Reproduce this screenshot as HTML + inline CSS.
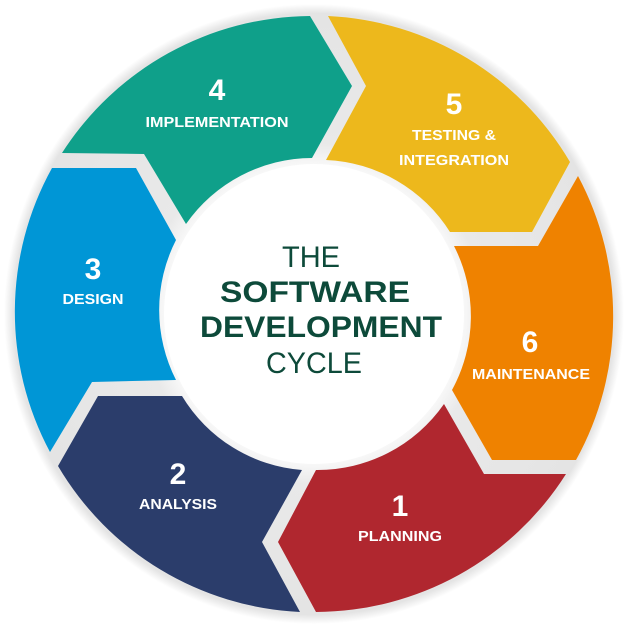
<!DOCTYPE html>
<html><head><meta charset="utf-8"><style>html,body{margin:0;padding:0;background:#fff}svg{display:block}</style></head>
<body>
<svg width="627" height="627" viewBox="0 0 627 627" xmlns="http://www.w3.org/2000/svg" font-family="Liberation Sans, Arial, sans-serif">
<defs>
<radialGradient id="rg" cx="50%" cy="50%" r="50%">
<stop offset="0.45" stop-color="#ffffff"/><stop offset="0.55" stop-color="#e9e9e9"/><stop offset="0.97" stop-color="#e4e4e4"/><stop offset="1" stop-color="#ffffff"/>
</radialGradient>
</defs>
<circle cx="314" cy="314" r="310" fill="url(#rg)"/>
<path d="M62,153 A297,297 0 0 1 310,16 L352,86 L312,158 A154,154 0 0 0 186,224 L144,154 Z" fill="#0fa08a"/>
<path d="M328,16 A297,297 0 0 1 570,162 L532,232 L450,232 A154,154 0 0 0 326,160 L366,86 Z" fill="#edb81c"/>
<path d="M578,176 A297,297 0 0 1 576,460 L492,460 L452,390 A154,154 0 0 0 454,246 L538,246 Z" fill="#ef8200"/>
<path d="M566,474 A297,297 0 0 1 316,612 L278,542 L316,470 A154,154 0 0 0 444,404 L484,474 Z" fill="#b0272f"/>
<path d="M300,612 A297,297 0 0 1 58,466 L98,396 L182,396 A154,154 0 0 0 302,470 L262,542 Z" fill="#2b3d6b"/>
<path d="M50,452 A297,297 0 0 1 52,168 L136,168 L176,240 A154,154 0 0 0 176,380 L92,382 Z" fill="#0096d6"/>
<circle cx="314" cy="314" r="150" fill="#ffffff"/>
<g fill="#0d4a3a" text-anchor="middle">
<text x="311" y="267" font-size="30" textLength="58" lengthAdjust="spacingAndGlyphs">THE</text>
<text x="315" y="302" font-size="30" font-weight="bold" textLength="190" lengthAdjust="spacingAndGlyphs">SOFTWARE</text>
<text x="321" y="337" font-size="30" font-weight="bold" textLength="242" lengthAdjust="spacingAndGlyphs">DEVELOPMENT</text>
<text x="314" y="373" font-size="30" textLength="96" lengthAdjust="spacingAndGlyphs">CYCLE</text>
</g>
<g fill="#ffffff" text-anchor="middle" font-weight="bold">
<text x="217" y="100" font-size="30">4</text>
<text x="217" y="127" font-size="15" textLength="143" lengthAdjust="spacingAndGlyphs">IMPLEMENTATION</text>
<text x="454" y="114" font-size="30">5</text>
<text x="454" y="140" font-size="15" textLength="84" lengthAdjust="spacingAndGlyphs">TESTING &amp;</text>
<text x="454" y="165" font-size="15" textLength="110" lengthAdjust="spacingAndGlyphs">INTEGRATION</text>
<text x="93" y="279" font-size="30">3</text>
<text x="93" y="304" font-size="15" textLength="61" lengthAdjust="spacingAndGlyphs">DESIGN</text>
<text x="530" y="352" font-size="30">6</text>
<text x="531" y="379" font-size="15" textLength="118" lengthAdjust="spacingAndGlyphs">MAINTENANCE</text>
<text x="178" y="484" font-size="30">2</text>
<text x="178" y="509" font-size="15" textLength="78" lengthAdjust="spacingAndGlyphs">ANALYSIS</text>
<text x="400" y="516" font-size="30">1</text>
<text x="400" y="541" font-size="15" textLength="84" lengthAdjust="spacingAndGlyphs">PLANNING</text>
</g>
</svg>
</body></html>
